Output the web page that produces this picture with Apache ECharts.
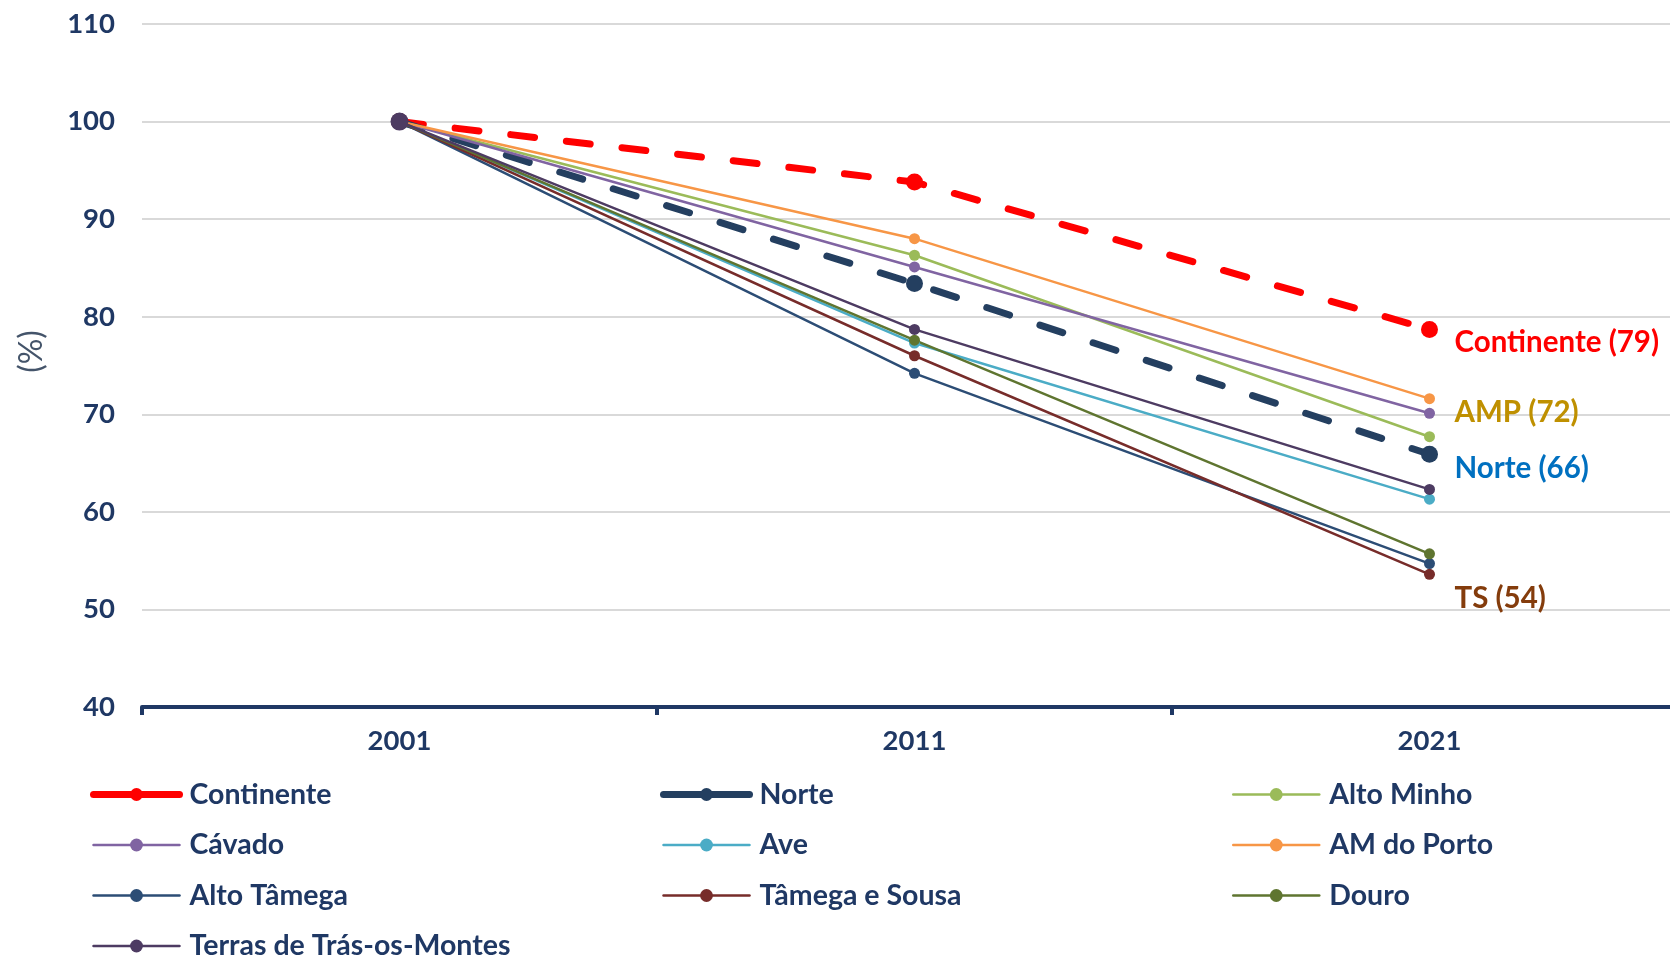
<!DOCTYPE html>
<html>
<head>
<meta charset="utf-8">
<script src="https://cdn.jsdelivr.net/npm/echarts@6/dist/echarts.min.js"></script>
<style>
  html, body { margin: 0; padding: 0; background: #ffffff; overflow: hidden; }
  #chart { width: 1700px; height: 1000px; }
</style>
</head>
<body>
<div id="chart"></div>
<script>
// Population index by region (2001 = 100)
const years = ['2001', '2011', '2021'];

const continente    = [100, 93.8, 78.7];
const norte         = [100, 83.4, 65.9];
const altoMinho     = [100, 86.3, 67.7];
const cavado        = [100, 85.1, 70.1];
const ave           = [100, 77.3, 61.3];
const amPorto       = [100, 88.0, 71.6];
const altoTamega    = [100, 74.2, 54.7];
const tamegaSousa   = [100, 76.0, 53.6];
const douro         = [100, 77.6, 55.7];
const terras        = [100, 78.7, 62.3];

const yTicks = [40, 50, 60, 70, 80, 90, 100, 110];

const NAVY = '#1F3864';
const FONT = 'Lato, "Open Sans", sans-serif';

// end-of-line annotations: series name -> short tag and colour
const endTags = {
  'Continente':  { tag: 'Continente', color: '#FF0000', dy: 13 },
  'AM do Porto': { tag: 'AMP',        color: '#BF9000', dy: 14 },
  'Norte':       { tag: 'Norte',      color: '#0070C0', dy: 14 },
  'Tâmega e Sousa': { tag: 'TS',      color: '#843C0C', dy: 24 }
};

const defs = [
  { name: 'Continente', data: continente, color: '#FF0000', width: 7, dashed: true, size: 17 },
  { name: 'Norte', data: norte, color: '#243F60', width: 7, dashed: true, size: 17 },
  { name: 'Alto Minho', data: altoMinho, color: '#9BBB59', width: 2.5, size: 11 },
  { name: 'Cávado', data: cavado, color: '#8064A2', width: 2.5, size: 11 },
  { name: 'Ave', data: ave, color: '#4BACC6', width: 2.5, size: 11 },
  { name: 'AM do Porto', data: amPorto, color: '#F79646', width: 2.5, size: 11 },
  { name: 'Alto Tâmega', data: altoTamega, color: '#2C4D75', width: 2.5, size: 11 },
  { name: 'Tâmega e Sousa', data: tamegaSousa, color: '#772C2A', width: 2.5, size: 11 },
  { name: 'Douro', data: douro, color: '#5F7530', width: 2.5, size: 11 },
  { name: 'Terras de Trás-os-Montes', data: terras, color: '#4D3B62', width: 2.5, size: 11, firstSize: 18 }
];

function buildSeries(d) {
  const tag = endTags[d.name];
  const last = d.data.length - 1;
  const data = d.data.map((v, i) => {
    if (tag && i === last) {
      return {
        value: v,
        label: {
          show: true,
          position: [25 + d.size / 2, tag.dy + d.size / 2],
          align: 'left',
          verticalAlign: 'middle',
          color: tag.color,
          fontFamily: FONT,
          fontWeight: 'bold',
          fontSize: 29.5,
          formatter: (p) => tag.tag + ' (' + Math.round(p.value) + ')'
        }
      };
    }
    return v;
  });
  return {
    name: d.name,
    type: 'line',
    data: data,
    symbol: 'circle',
    symbolSize: (v, p) => (d.firstSize && p.dataIndex === 0) ? d.firstSize : d.size,
    itemStyle: { color: d.color, borderWidth: 0 },
    lineStyle: {
      color: d.color,
      width: d.width,
      type: d.dashed ? [24, 32] : 'solid',
      cap: 'round'
    },
    emphasis: { disabled: true },
    animation: false,
    z: 2
  };
}

const legendCols = [
  ['Continente', 'Cávado', 'Alto Tâmega', 'Terras de Trás-os-Montes'],
  ['Norte', 'Ave', 'Tâmega e Sousa'],
  ['Alto Minho', 'AM do Porto', 'Douro']
];
const legendLeft = [85, 655, 1227];

function legendItem(name) {
  const d = defs.find(x => x.name === name);
  return {
    name: name,
    lineStyle: { type: 'solid', width: d.dashed ? 7 : 2.5, cap: 'round' }
  };
}

const chart = echarts.init(document.getElementById('chart'), null, { renderer: 'canvas' });

chart.setOption({
  backgroundColor: '#ffffff',
  animation: false,
  grid: { left: 142, top: 24, width: 1545, height: 683, containLabel: false },
  xAxis: {
    type: 'category',
    data: years,
    boundaryGap: true,
    axisLine: { show: true, lineStyle: { color: NAVY, width: 4 } },
    axisTick: { show: true, length: 8, lineStyle: { color: NAVY, width: 4 } },
    axisLabel: {
      margin: 20,
      color: NAVY,
      fontFamily: FONT,
      fontWeight: 'bold',
      fontSize: 27.5
    },
    splitLine: { show: false }
  },
  yAxis: {
    type: 'value',
    min: yTicks[0],
    max: yTicks[yTicks.length - 1],
    interval: 10,
    name: '(%)',
    nameLocation: 'middle',
    nameGap: 94,
    nameRotate: 90,
    nameTextStyle: {
      color: '#44546A',
      fontFamily: FONT,
      fontSize: 32,
      padding: [0, 0, 0, 28]
    },
    axisLine: { show: false },
    axisTick: { show: false },
    axisLabel: {
      margin: 27,
      color: NAVY,
      fontFamily: FONT,
      fontWeight: 'bold',
      fontSize: 27.5
    },
    splitLine: { show: true, lineStyle: { color: '#D9D9D9', width: 2 } }
  },
  legend: legendCols.map((col, i) => ({
    orient: 'vertical',
    left: legendLeft[i],
    top: 775,
    itemGap: 21.5,
    itemWidth: 86,
    itemHeight: 16,
    selectedMode: false,
    textStyle: {
      color: NAVY,
      fontFamily: FONT,
      fontWeight: 'bold',
      fontSize: 28.5,
      padding: [0, 0, 0, 5]
    },
    data: col.map(legendItem)
  })),
  series: defs.map(buildSeries)
});
</script>
</body>
</html>
